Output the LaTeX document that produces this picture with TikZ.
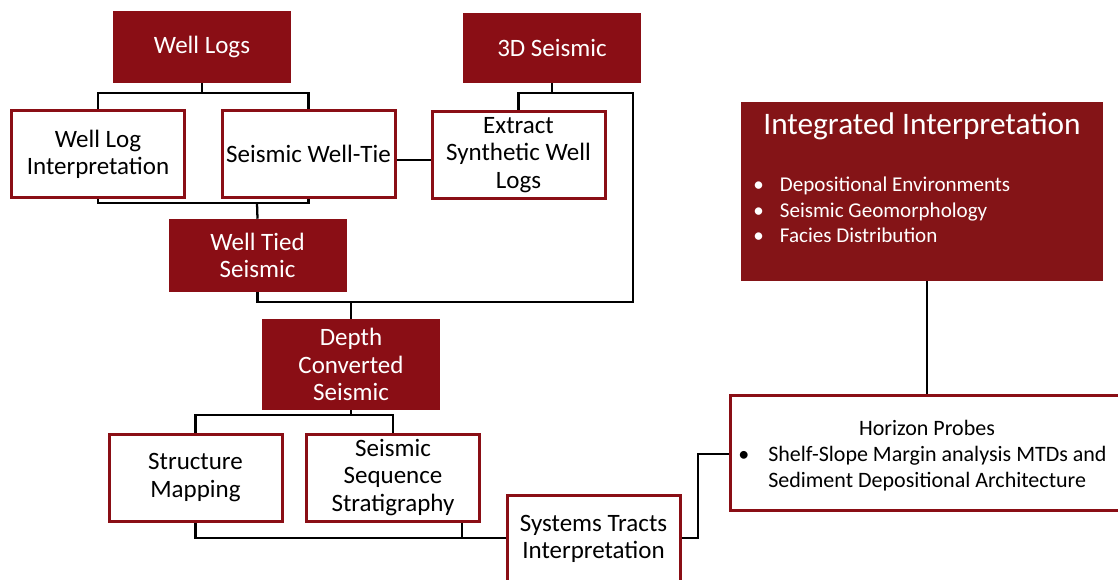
\documentclass[tikz,border=0pt]{standalone}
\usepackage{fontspec}
\setmainfont{Carlito}
\usetikzlibrary{backgrounds}
\definecolor{brickred}{RGB}{138,14,21}
\definecolor{panelred}{RGB}{132,20,23}
\begin{document}
\begin{tikzpicture}[x=0.75pt,y=-0.75pt,
  every node/.style={font=\fontsize{18.75}{20.5}\selectfont, align=center, inner sep=0pt},
  filledbox/.style={fill=brickred, text=white, minimum width=133.5pt, minimum height=54pt},
  outlinebox/.style={draw=brickred, line width=2.25pt, fill=white, text=black,
                     minimum width=129.75pt, minimum height=65.25pt},
  wire/.style={draw=black, line width=1.7pt}]
\useasboundingbox (0,0) rectangle (1118,579);
\clip (0,0) rectangle (1118,579);

% sources
\node[filledbox] (wl) at (202,47) {Well Logs};
\node[filledbox, minimum height=52.5pt] (s3d) at (552,48) {3D Seismic};

% first processing row
\node[outlinebox] (wli) at (98,154) {Well Log\\Interpretation};
\node[outlinebox] (swt) at (308.5,154) {Seismic Well-Tie};
\node[outlinebox] (esw) at (518.5,155) {Extract\\Synthetic Well\\Logs};

\node[filledbox, minimum height=54.75pt] (wts) at (257.5,255.5) {Well Tied\\Seismic};
\node[filledbox, minimum height=68.25pt] (dcs) at (351,364.5) {Depth\\Converted\\Seismic};

% interpretation row
\node[outlinebox] (sm) at (195.5,477.5) {Structure\\Mapping};
\node[outlinebox] (sss) at (393,477.5) {Seismic\\Sequence\\Stratigraphy};
\node[outlinebox] (sti) at (593.5,539) {Systems Tracts\\Interpretation};

% integrated interpretation panel
\node[fill=panelred, minimum width=271.5pt, minimum height=134.25pt] (ii) at (922,191.5) {};
\node[text=white, font=\fontsize{23.5}{26}\selectfont] (iititle) at (922,126) {Integrated Interpretation};
\node[text=white, anchor=west, align=left, font=\fontsize{15.8}{19.1}\selectfont] (iilist) at (753,212)
  {\begin{tabular}{@{}p{20pt}@{}l@{}}
   \textbullet & Depositional Environments\\
   \textbullet & Seismic Geomorphology\\
   \textbullet & Facies Distribution
   \end{tabular}};

% horizon probes panel
\node[outlinebox, minimum width=294.75pt, minimum height=86.25pt] (hp) at (927,453) {};
\node[font=\fontsize{16.5}{19.5}\selectfont] (hptitle) at (927,428) {Horizon Probes};
\node[anchor=west, align=left, font=\fontsize{16.5}{19.5}\selectfont] (hplist) at (738,469)
  {\begin{tabular}{@{}p{22.5pt}@{}l@{}}
   \textbullet & Shelf-Slope Margin analysis MTDs and\\
               & Sediment Depositional Architecture
   \end{tabular}};

% junction points of the elbow connectors
\coordinate (j1) at (202,93);
\coordinate (j2) at (257,203);
\coordinate (tie) at (0,160);
\coordinate (j3) at (552,93);
\coordinate (c1) at (633,93);
\coordinate (c2) at (633,302);
\coordinate (j4) at (351,302);
\coordinate (j5) at (351,415);
\coordinate (k) at (462,538);
\coordinate (m1) at (698,538);
\coordinate (m2) at (698,454);

\begin{scope}[on background layer]
  \draw[wire] (wl.south) -- (j1);
  \draw[wire] (wli.north) |- (j1) -| (swt.north);
  \draw[wire] (wli.south) |- (j2) -| (swt.south);
  \draw[wire] (j2) -- (wts.north);
  \draw[wire] (swt.east |- tie) -- (esw.west |- tie);
  \draw[wire] (s3d.south) -- (j3);
  \draw[wire] (esw.north) |- (c1) -- (c2) -| (wts.south);
  \draw[wire] (j4) -- (dcs.north);
  \draw[wire] (dcs.south) -- (j5);
  \draw[wire] (sm.north) |- (j5) -| (sss.north);
  \draw[wire] (sm.south) |- (k) -- (sti.west |- k);
  \draw[wire] (k) -- (k |- sss.south);
  \draw[wire] (sti.east |- m1) -- (m1) -- (m2) -- (hp.west |- m2);
  \draw[wire] (hp.north) -- (hp.north |- ii.south);
\end{scope}
\end{tikzpicture}
\end{document}
